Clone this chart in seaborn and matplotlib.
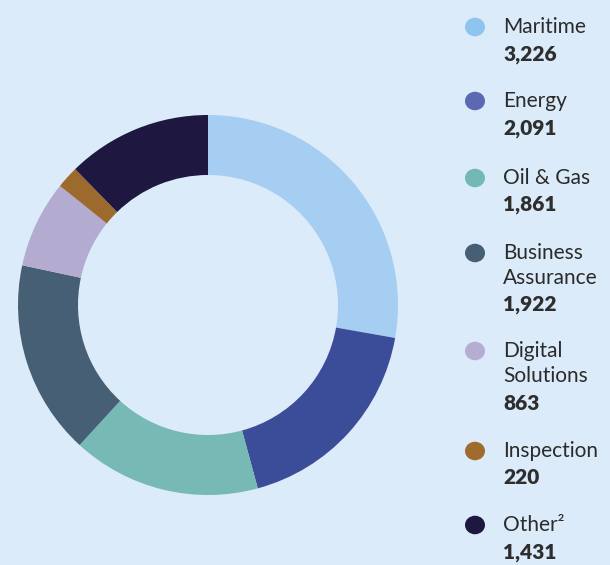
import matplotlib
matplotlib.use('Agg')
import matplotlib.pyplot as plt
import seaborn as sns

# dados do gráfico
segmentos = ['Maritime', 'Energy', 'Oil & Gas', 'Business\nAssurance',
             'Digital\nSolutions', 'Inspection', 'Other²']
valores = [3226, 2091, 1861, 1922, 863, 220, 1431]
rotulos_valores = ['3,226', '2,091', '1,861', '1,922', '863', '220', '1,431']

cores = ['#A5CEF2', '#3B4C99', '#76B9B5', '#475F74', '#B3ACD0', '#9C6A2C', '#1E1740']
cores_legenda = ['#8EC4EE', '#5D68B2', '#74B8B3', '#475F74', '#B5ADD2', '#A06C2E', '#1E1740']
fundo = '#DCEBF9'

sns.set_style('white')
plt.rcParams['font.family'] = ['Lato', 'DejaVu Sans']

W, H = 610, 565
fig = plt.figure(figsize=(W / 100, H / 100), dpi=100, facecolor=fundo)

# donut: centro (208, 305), raio 190 px
ax = fig.add_axes([18 / W, (H - 495) / H, 380 / W, 380 / H])
ax.set_facecolor(fundo)
ax.pie(valores, colors=cores, startangle=90, counterclock=False, radius=1,
       wedgeprops=dict(width=60 / 190, linewidth=0))
ax.set_xlim(-1, 1)
ax.set_ylim(-1, 1)
ax.axis('off')

# legenda na direita (posições em pixels a partir do topo)
linhas_nome = [27, 101, 178, 253, 351, 451, 525]
for nome, val, cor, y in zip(segmentos, rotulos_valores, cores_legenda, linhas_nome):
    fig.patches.append(plt.Circle((475 / W, 1 - y / H), 10 / W, transform=fig.transFigure,
                                  color=cor, ec='none'))
    partes = nome.split('\n')
    for i, p in enumerate(partes):
        fig.text(503 / W, 1 - (y + 25 * i) / H, p, fontsize=15, color='#2B2B2B',
                 va='center', ha='left')
    yv = y + 25 * (len(partes) - 1) + 27
    fig.text(503 / W, 1 - yv / H, val, fontsize=15, fontweight='heavy',
             color='#2E2E2E', va='center', ha='left')

fig.savefig('out.png', dpi=100, facecolor=fundo)
